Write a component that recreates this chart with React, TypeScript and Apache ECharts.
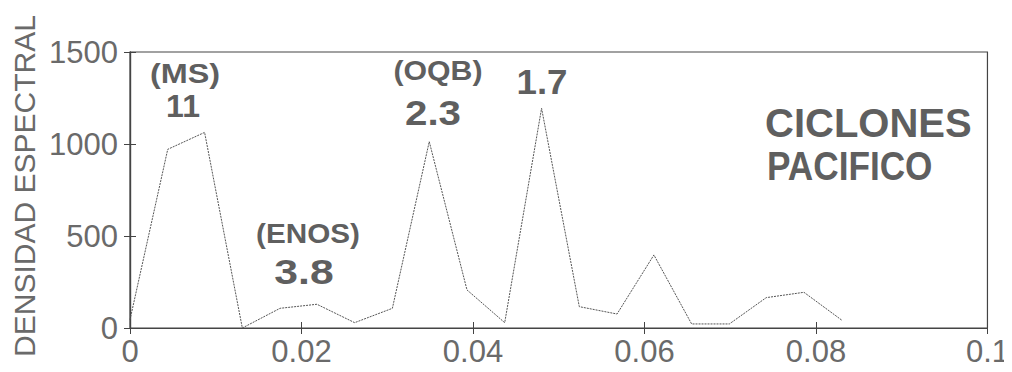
import React, { useEffect, useRef } from "react";
import * as echarts from "echarts";

// Frequencies (cycles per month) and spectral density values
const frequencies = [0, 0.0044, 0.0087, 0.0131, 0.0175, 0.0218, 0.0262, 0.0306, 0.0349, 0.0393, 0.0437, 0.048, 0.0524, 0.0568, 0.0611, 0.0655, 0.0699, 0.0742, 0.0786, 0.083];
const density = [45, 971, 1063, 0, 107, 129, 29, 107, 1013, 207, 29, 1194, 116, 76, 397, 22, 22, 165, 194, 43];
const xTickLabels = ["0", "0.02", "0.04", "0.06", "0.08", "0.1"];
const yTickLabels = ["0", "500", "1000", "1500"];

const TEXT_GRAY = "#5f5f5f";
const THIN_GRAY = "#6a6a6a";
const THIN_FONT = "'Liberation Sans', Arial, sans-serif";
const BOLD_FONT = "'Liberation Sans', Arial, sans-serif";

export default function App() {
  const ref = useRef<HTMLDivElement>(null);
  useEffect(() => {
    if (!ref.current) return;
    const chart = echarts.init(ref.current, null, { renderer: "svg" });
    const data = frequencies.map((f, i) => [f, density[i]]);
    const boldText = (text: string, x: number, y: number, size: number, scaleX = 1, align = "center") => ({
      type: "text",
      x,
      y,
      scaleX,
      style: {
        text,
        fill: TEXT_GRAY,
        font: `bold ${size}px ${BOLD_FONT}`,
        textAlign: align,
        textVerticalAlign: "middle",
      },
    });
    const axisCommon = {
      axisLine: { show: true, lineStyle: { color: "#444", width: 1.2 } },
      axisTick: { show: true, inside: true, length: 6, lineStyle: { color: "#444" } },
      splitLine: { show: false },
    };
    chart.setOption({
      animation: false,
      backgroundColor: "#ffffff",
      grid: { left: 130, right: 22, top: 52, bottom: 44, show: true, borderColor: "#444", borderWidth: 1.2 },
      xAxis: [
        {
          type: "value",
          min: 0,
          max: 0.1,
          interval: 0.02,
          ...axisCommon,
          axisLabel: {
            margin: 8,
            color: THIN_GRAY,
            fontFamily: THIN_FONT,
            fontSize: 31,
            formatter: (v: number) => xTickLabels[Math.round(v / 0.02)] ?? "",
          },
        },
        {
          type: "value",
          position: "top",
          min: 0,
          max: 0.1,
          interval: 0.02,
          ...axisCommon,
          axisLabel: { show: false },
        },
      ],
      yAxis: [
        {
          type: "value",
          min: 0,
          max: 1500,
          interval: 500,
          ...axisCommon,
          axisLabel: {
            margin: 12,
            color: THIN_GRAY,
            fontFamily: THIN_FONT,
            fontSize: 31,
            formatter: (v: number) => yTickLabels[Math.round(v / 500)] ?? "",
          },
        },
        {
          type: "value",
          position: "right",
          min: 0,
          max: 1500,
          interval: 500,
          ...axisCommon,
          axisLabel: { show: false },
        },
      ],
      series: [
        {
          type: "line",
          data,
          showSymbol: false,
          lineStyle: { color: "#555", width: 1, type: [2, 1] },
        },
      ],
      graphic: [
        {
          type: "text",
          x: 24,
          y: 186,
          rotation: Math.PI / 2,
          style: {
            text: "DENSIDAD ESPECTRAL",
            fill: THIN_GRAY,
            font: `30px ${THIN_FONT}`,
            textAlign: "center",
            textVerticalAlign: "middle",
          },
        },
        boldText("(MS)", 185, 73, 27, 1.2),
        boldText("11", 183, 106, 32),
        boldText("(ENOS)", 308, 233, 27, 1.1),
        boldText("3.8", 304, 272, 35, 1.22),
        boldText("(OQB)", 438, 70, 28, 1.08),
        boldText("2.3", 433, 112, 36, 1.12),
        boldText("1.7", 542, 82, 35, 1.05),
        boldText("CICLONES", 765, 123, 40, 1.0, "left"),
        boldText("PACIFICO", 767, 166, 40, 0.88, "left"),
      ],
    });
    return () => chart.dispose();
  }, []);
  return <div ref={ref} style={{ width: 1012, height: 372, margin: -8 }} />;
}
